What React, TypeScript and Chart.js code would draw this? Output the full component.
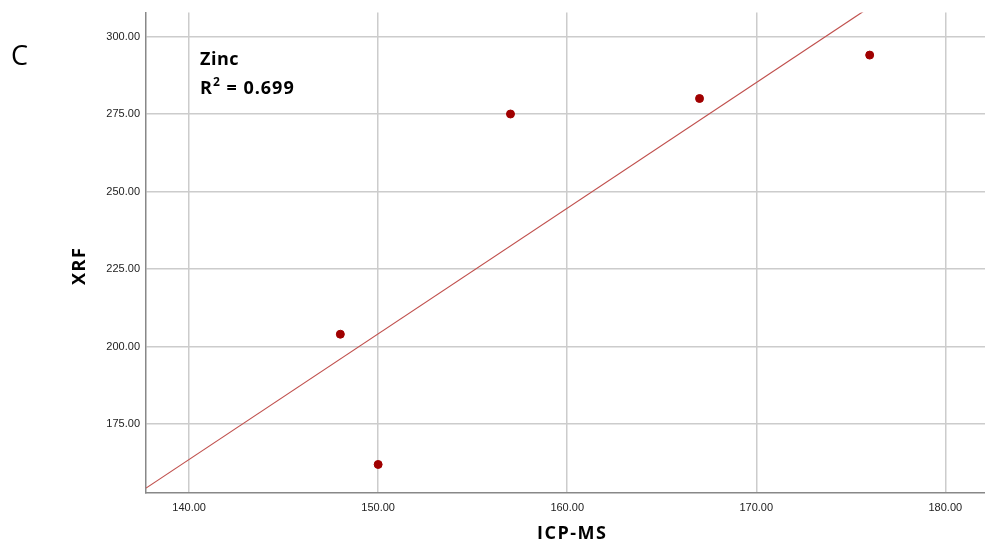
import React, { useEffect, useRef } from "react";
import { Chart, registerables } from "chart.js";

Chart.register(...registerables);

// ICP-MS vs XRF measurements for zinc
const icpms = [148, 150, 157, 167, 176];
const xrf = [204, 162, 275, 280, 294];

const xTicks = [140, 150, 160, 170, 180];
const yTicks = [175, 200, 225, 250, 275, 300];

const xMin = 137.72;
const xMax = 182.1;
const yMin = 152.8;
const yMax = 307.7;

const panelLabel = "C";
const elementName = "Zinc";
const r2Value = "0.699";

// least-squares fit line through the measurements
function fitLine(xs: number[], ys: number[]) {
  const n = xs.length;
  const mx = xs.reduce((a, b) => a + b, 0) / n;
  const my = ys.reduce((a, b) => a + b, 0) / n;
  let sxy = 0;
  let sxx = 0;
  for (let i = 0; i < n; i++) {
    sxy += (xs[i] - mx) * (ys[i] - my);
    sxx += (xs[i] - mx) ** 2;
  }
  const slope = sxy / sxx;
  const intercept = my - slope * mx;
  return [xMin, xMax].map((x) => ({ x, y: intercept + slope * x }));
}

const labelsPlugin = {
  id: "panelText",
  afterDraw(chart: any) {
    const { ctx, chartArea, scales } = chart;
    ctx.save();
    ctx.fillStyle = "#000";
    ctx.textBaseline = "alphabetic";
    ctx.textAlign = "left";
    ctx.font = '27px "Open Sans", sans-serif';
    ctx.fillText(panelLabel, 11, 65);

    // annotation: element name and R squared
    ctx.font = 'bold 18px "Open Sans", sans-serif';
    (ctx as any).letterSpacing = "0.5px";
    ctx.fillText(elementName, 200, 65);
    (ctx as any).letterSpacing = "1px";
    let x = 200;
    ctx.fillText("R", x, 94);
    x += ctx.measureText("R").width;
    ctx.font = 'bold 12px "Open Sans", sans-serif';
    ctx.fillText("2", x, 86);
    x += ctx.measureText("2").width;
    ctx.font = 'bold 18px "Open Sans", sans-serif';
    ctx.fillText(" = " + r2Value, x, 94);

    // axis titles
    (ctx as any).letterSpacing = "1.5px";
    ctx.textAlign = "center";
    ctx.textBaseline = "middle";
    ctx.fillText("ICP-MS", scales.x.getPixelForValue(160) + 5, 534);
    ctx.translate(80, (chartArea.top + chartArea.bottom) / 2 + 13);
    ctx.rotate(-Math.PI / 2);
    ctx.fillText("XRF", 0, 0);
    ctx.restore();
  },
};

export default function App() {
  const ref = useRef<HTMLCanvasElement>(null);

  useEffect(() => {
    document.body.style.margin = "0";
    const canvas = ref.current!;
    const chart = new Chart(canvas, {
      type: "scatter",
      data: {
        datasets: [
          {
            type: "line",
            data: fitLine(icpms, xrf),
            borderColor: "#c0504d",
            borderWidth: 1.2,
            pointRadius: 0,
            fill: false,
          } as any,
          {
            data: icpms.map((x, i) => ({ x, y: xrf[i] })),
            backgroundColor: "#a00000",
            borderColor: "#a00000",
            pointRadius: 4,
          },
        ],
      },
      options: {
        animation: false,
        responsive: false,
        events: [],
        layout: { padding: { top: 12, right: 0, left: 0, bottom: 0 } },
        plugins: { legend: { display: false }, tooltip: { enabled: false } },
        scales: {
          x: {
            type: "linear",
            min: xMin,
            max: xMax,
            afterBuildTicks: (s: any) => {
              s.ticks = xTicks.map((v) => ({ value: v }));
            },
            afterFit: (s: any) => {
              s.height = 53;
            },
            grid: { color: "#cccccc", lineWidth: 1.5, drawTicks: false },
            border: { color: "#888888", width: 1.5 },
            ticks: {
              padding: 8,
              color: "#222",
              font: { family: '"Liberation Sans", Arial, sans-serif', size: 11 },
              callback: (v: any) => Number(v).toFixed(2),
            },
          },
          y: {
            type: "linear",
            min: yMin,
            max: yMax,
            afterBuildTicks: (s: any) => {
              s.ticks = yTicks.map((v) => ({ value: v }));
            },
            afterFit: (s: any) => {
              s.width = 146;
            },
            grid: { color: "#cccccc", lineWidth: 1.5, drawTicks: false },
            border: { color: "#888888", width: 1.5 },
            ticks: {
              padding: 6,
              color: "#222",
              font: { family: '"Liberation Sans", Arial, sans-serif', size: 11 },
              callback: (v: any) => Number(v).toFixed(2),
            },
          },
        },
      },
      plugins: [labelsPlugin],
    });
    return () => chart.destroy();
  }, []);

  return (
    <div style={{ width: 985, height: 546, overflow: "hidden" }}>
      <canvas ref={ref} width={990} height={546} style={{ display: "block" }} />
    </div>
  );
}
